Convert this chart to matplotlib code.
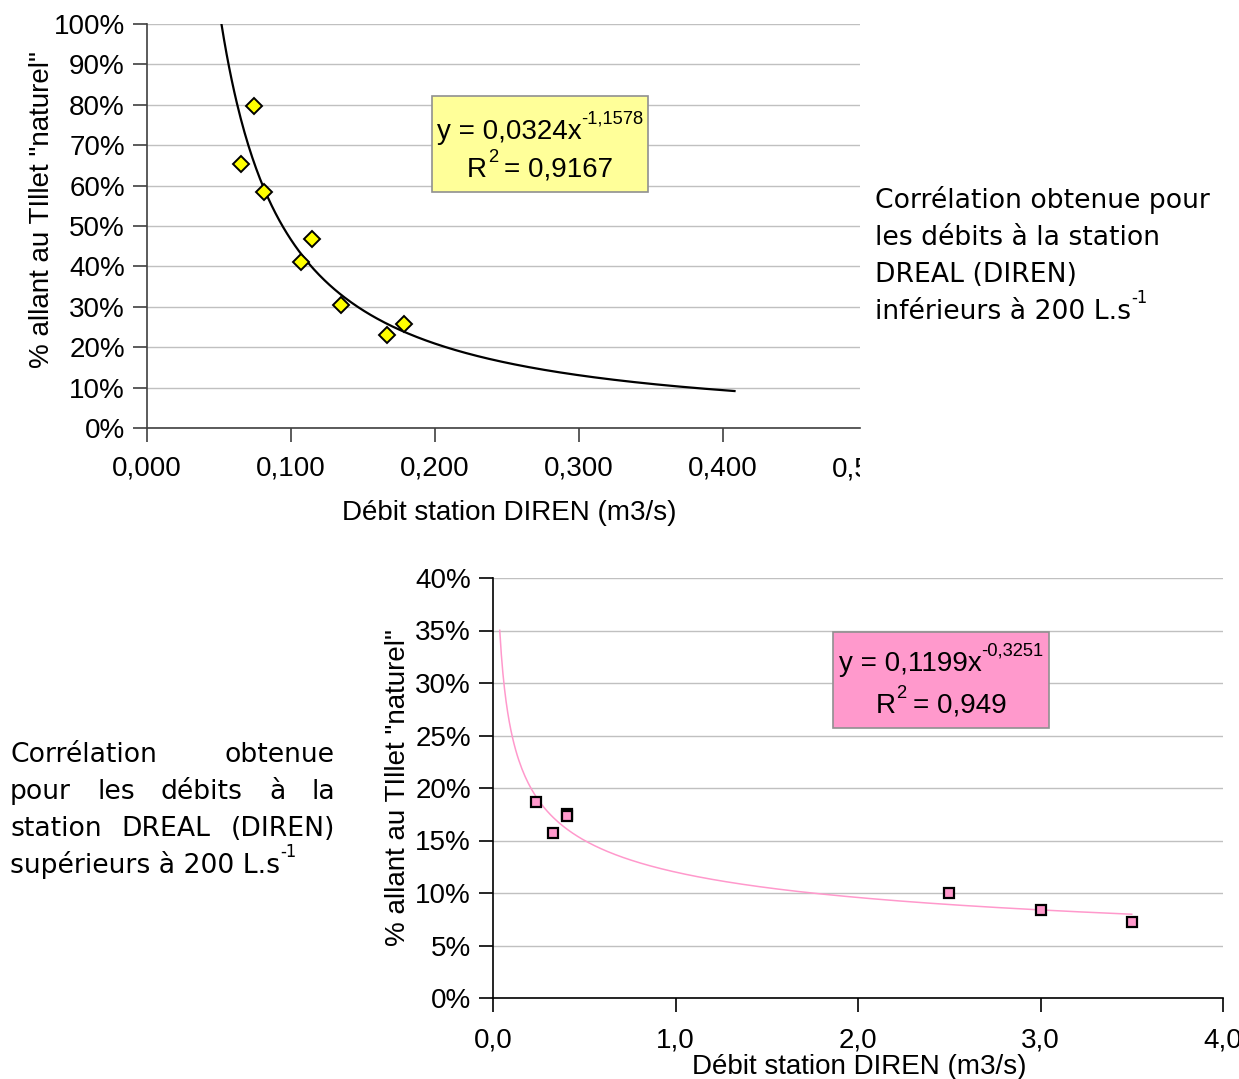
import numpy as np
import matplotlib
matplotlib.use("Agg")
import matplotlib.pyplot as plt
from matplotlib.ticker import FuncFormatter, MultipleLocator
from matplotlib.transforms import IdentityTransform, Bbox
from matplotlib.patches import Rectangle

plt.rcParams["font.family"] = ["Liberation Sans", "DejaVu Sans"]

W, H = 1239, 1079
PARA_FONT = "DejaVu Sans"

# flows below 200 L/s
low_q = [0.0655, 0.0745, 0.081, 0.1067, 0.1144, 0.135, 0.167, 0.1787]
low_pct = [0.654, 0.796, 0.584, 0.410, 0.469, 0.304, 0.230, 0.257]
low_coef, low_exp = 0.0324, -1.1578
low_span = (0.0517, 0.408)
low_eq = ("y = 0,0324x", "-1,1578")
low_r2 = "= 0,9167"
low_note = ["Corrélation obtenue pour", "les débits à la station",
            "DREAL (DIREN)", "inférieurs à 200 L.s"]

# flows above 200 L/s
high_q = [0.236, 0.327, 0.407, 0.407, 2.50, 3.00, 3.50]
high_pct = [0.187, 0.157, 0.175, 0.173, 0.100, 0.084, 0.072]
high_coef, high_exp = 0.1199, -0.3251
high_span = (0.037, 3.5)
high_eq = ("y = 0,1199x", "-0,3251")
high_r2 = "= 0,949"
high_note = ["Corrélation obtenue", "pour les débits à la",
             "station DREAL (DIREN)", "supérieurs à 200 L.s"]

YLABEL = '% allant au TIllet "naturel"'
XLABEL = "Débit station DIREN (m3/s)"


def px_axes(fig, left, top, right, bottom):
    return fig.add_axes([left / W, 1 - bottom / H, (right - left) / W, (bottom - top) / H])


def style(ax, spine_col, xpad):
    for s in ("top", "right"):
        ax.spines[s].set_visible(False)
    for s in ("left", "bottom"):
        ax.spines[s].set_color(spine_col)
        ax.spines[s].set_linewidth(1.2)
    ax.yaxis.grid(True, color="#c0c0c0", lw=1)
    ax.set_axisbelow(True)
    ax.tick_params(direction="out", length=10, width=1.2, color=spine_col, labelsize=20)
    ax.tick_params(axis="y", pad=6)
    ax.tick_params(axis="x", pad=xpad)
    ax.yaxis.set_major_formatter(FuncFormatter(lambda v, p: f"{v * 100:.0f}%"))


def rich(fig, r, x, base_y, parts, size, family, ha="left", rise=0.62, sup_scale=0.62):
    arts = []
    for s, sup, lead in parts:
        fs = size * sup_scale if sup else size
        a = fig.text(0, 0, s, fontsize=fs, family=family, va="baseline", ha="left",
                     transform=IdentityTransform(), zorder=6)
        arts.append((a, sup, lead, a.get_window_extent(r).width))
    total = sum(w + lead for _, _, lead, w in arts)
    x0 = x - total / 2 if ha == "center" else x
    for a, sup, lead, w in arts:
        x0 += lead
        dy = rise * size * 100 / 72 if sup else 0
        a.set_position((x0, H - base_y + dy))
        x0 += w


def justify(fig, r, left, right, base_y, line, size, family):
    words = line.split()
    arts = [fig.text(0, 0, w, fontsize=size, family=family, va="baseline",
                     transform=IdentityTransform()) for w in words]
    widths = [a.get_window_extent(r).width for a in arts]
    gap = (right - left - sum(widths)) / (len(words) - 1)
    x = left
    for a, w in zip(arts, widths):
        a.set_position((x, H - base_y))
        x += w + gap


def eq_box(fig, r, left, top, right, bottom, color, eq, r2, base1, base2):
    fig.patches.append(Rectangle((left, H - bottom), right - left, bottom - top,
                                 transform=IdentityTransform(), facecolor=color,
                                 edgecolor="#909090", lw=1.2, zorder=5))
    cx = (left + right) / 2
    rich(fig, r, cx, base1, [(eq[0], False, 0), (eq[1], True, 0)], 20,
         "Liberation Sans", ha="center", rise=0.55, sup_scale=0.66)
    rich(fig, r, cx, base2, [("R", False, 0), ("2", True, 1), (r2, False, 6)], 20,
         "Liberation Sans", ha="center", rise=0.55, sup_scale=0.66)


fig = plt.figure(figsize=(W / 100, H / 100), dpi=100)
r = fig.canvas.get_renderer()

# ---- top chart
ax1 = px_axes(fig, 147, 24, 860, 428)
style(ax1, "#404040", 10)
xx = np.linspace(*low_span, 400)
ax1.plot(xx, low_coef * xx ** low_exp, color="black", lw=1.6, zorder=2)
ax1.plot(low_q, low_pct, ls="none", marker="D", ms=8.5, mfc="#ffff00", mec="black",
         mew=1.4, zorder=3)
ax1.set_xlim(0, 0.5 * 713 / 720)
ax1.set_ylim(0, 1)
ax1.xaxis.set_major_locator(MultipleLocator(0.1))
ax1.yaxis.set_major_locator(MultipleLocator(0.1))
ax1.xaxis.set_major_formatter(FuncFormatter(lambda v, p: f"{v:.3f}".replace(".", ",")))
# 0,500 label cut by the edge of the pasted chart
t = ax1.text(0.5, 0, "0,500", fontsize=20, ha="center", va="center",
             transform=ax1.get_xaxis_transform())
t.set_position((0.5, -(469 - 428) / 404))
t.set_clip_box(Bbox.from_extents(0, 0, 860, H))
t.set_clip_on(True)
ax1.set_xlabel(XLABEL, fontsize=20)
ax1.xaxis.set_label_coords((509 - 147) / 713, -(513 - 428) / 404)
ax1.xaxis.label.set_va("center")
ax1.set_ylabel(YLABEL, fontsize=20)
ax1.yaxis.set_label_coords((42 - 147) / 713, (428 - 210) / 404)
ax1.yaxis.label.set_va("center")

# ---- bottom chart
ax2 = px_axes(fig, 493, 578, 1223, 998)
style(ax2, "black", 11)
xx = np.linspace(*high_span, 400)
ax2.plot(xx, high_coef * xx ** high_exp, color="#ff99cc", lw=1.1, zorder=2)
ax2.plot(high_q, high_pct, ls="none", marker="s", ms=7.5, mfc="#ff99cc", mec="black",
         mew=1.6, zorder=3)
ax2.set_xlim(0, 4)
ax2.set_ylim(0, 0.4)
ax2.xaxis.set_major_locator(MultipleLocator(1))
ax2.yaxis.set_major_locator(MultipleLocator(0.05))
ax2.xaxis.set_major_formatter(FuncFormatter(lambda v, p: f"{v:.1f}".replace(".", ",")))
ax2.set_xlabel(XLABEL, fontsize=20)
ax2.xaxis.set_label_coords((859 - 493) / 730, -(1067 - 998) / 420)
ax2.xaxis.label.set_va("center")
ax2.set_ylabel(YLABEL, fontsize=20)
ax2.yaxis.set_label_coords((398 - 493) / 730, (998 - 788) / 420)
ax2.yaxis.label.set_va("center")

# ---- equation boxes
eq_box(fig, r, 432, 96, 648, 192, "#ffff99", low_eq, low_r2, 139, 177)
eq_box(fig, r, 833, 632, 1049, 728, "#ff99cc", high_eq, high_r2, 671, 713)

# ---- side notes
for i, line in enumerate(low_note):
    y = 208 + i * 37
    if i < len(low_note) - 1:
        rich(fig, r, 875, y, [(line, False, 0)], 19.2, PARA_FONT)
    else:
        rich(fig, r, 875, y, [(line, False, 0), ("-1", True, 0)], 19.2, PARA_FONT, rise=0.6)

for i, line in enumerate(high_note):
    y = 762 + i * 37
    if i < len(high_note) - 1:
        justify(fig, r, 10, 335, y, line, 19.2, PARA_FONT)
    else:
        rich(fig, r, 10, y, [(line, False, 0), ("-1", True, 0)], 19.2, PARA_FONT, rise=0.6)

fig.savefig("out.png", dpi=100)
